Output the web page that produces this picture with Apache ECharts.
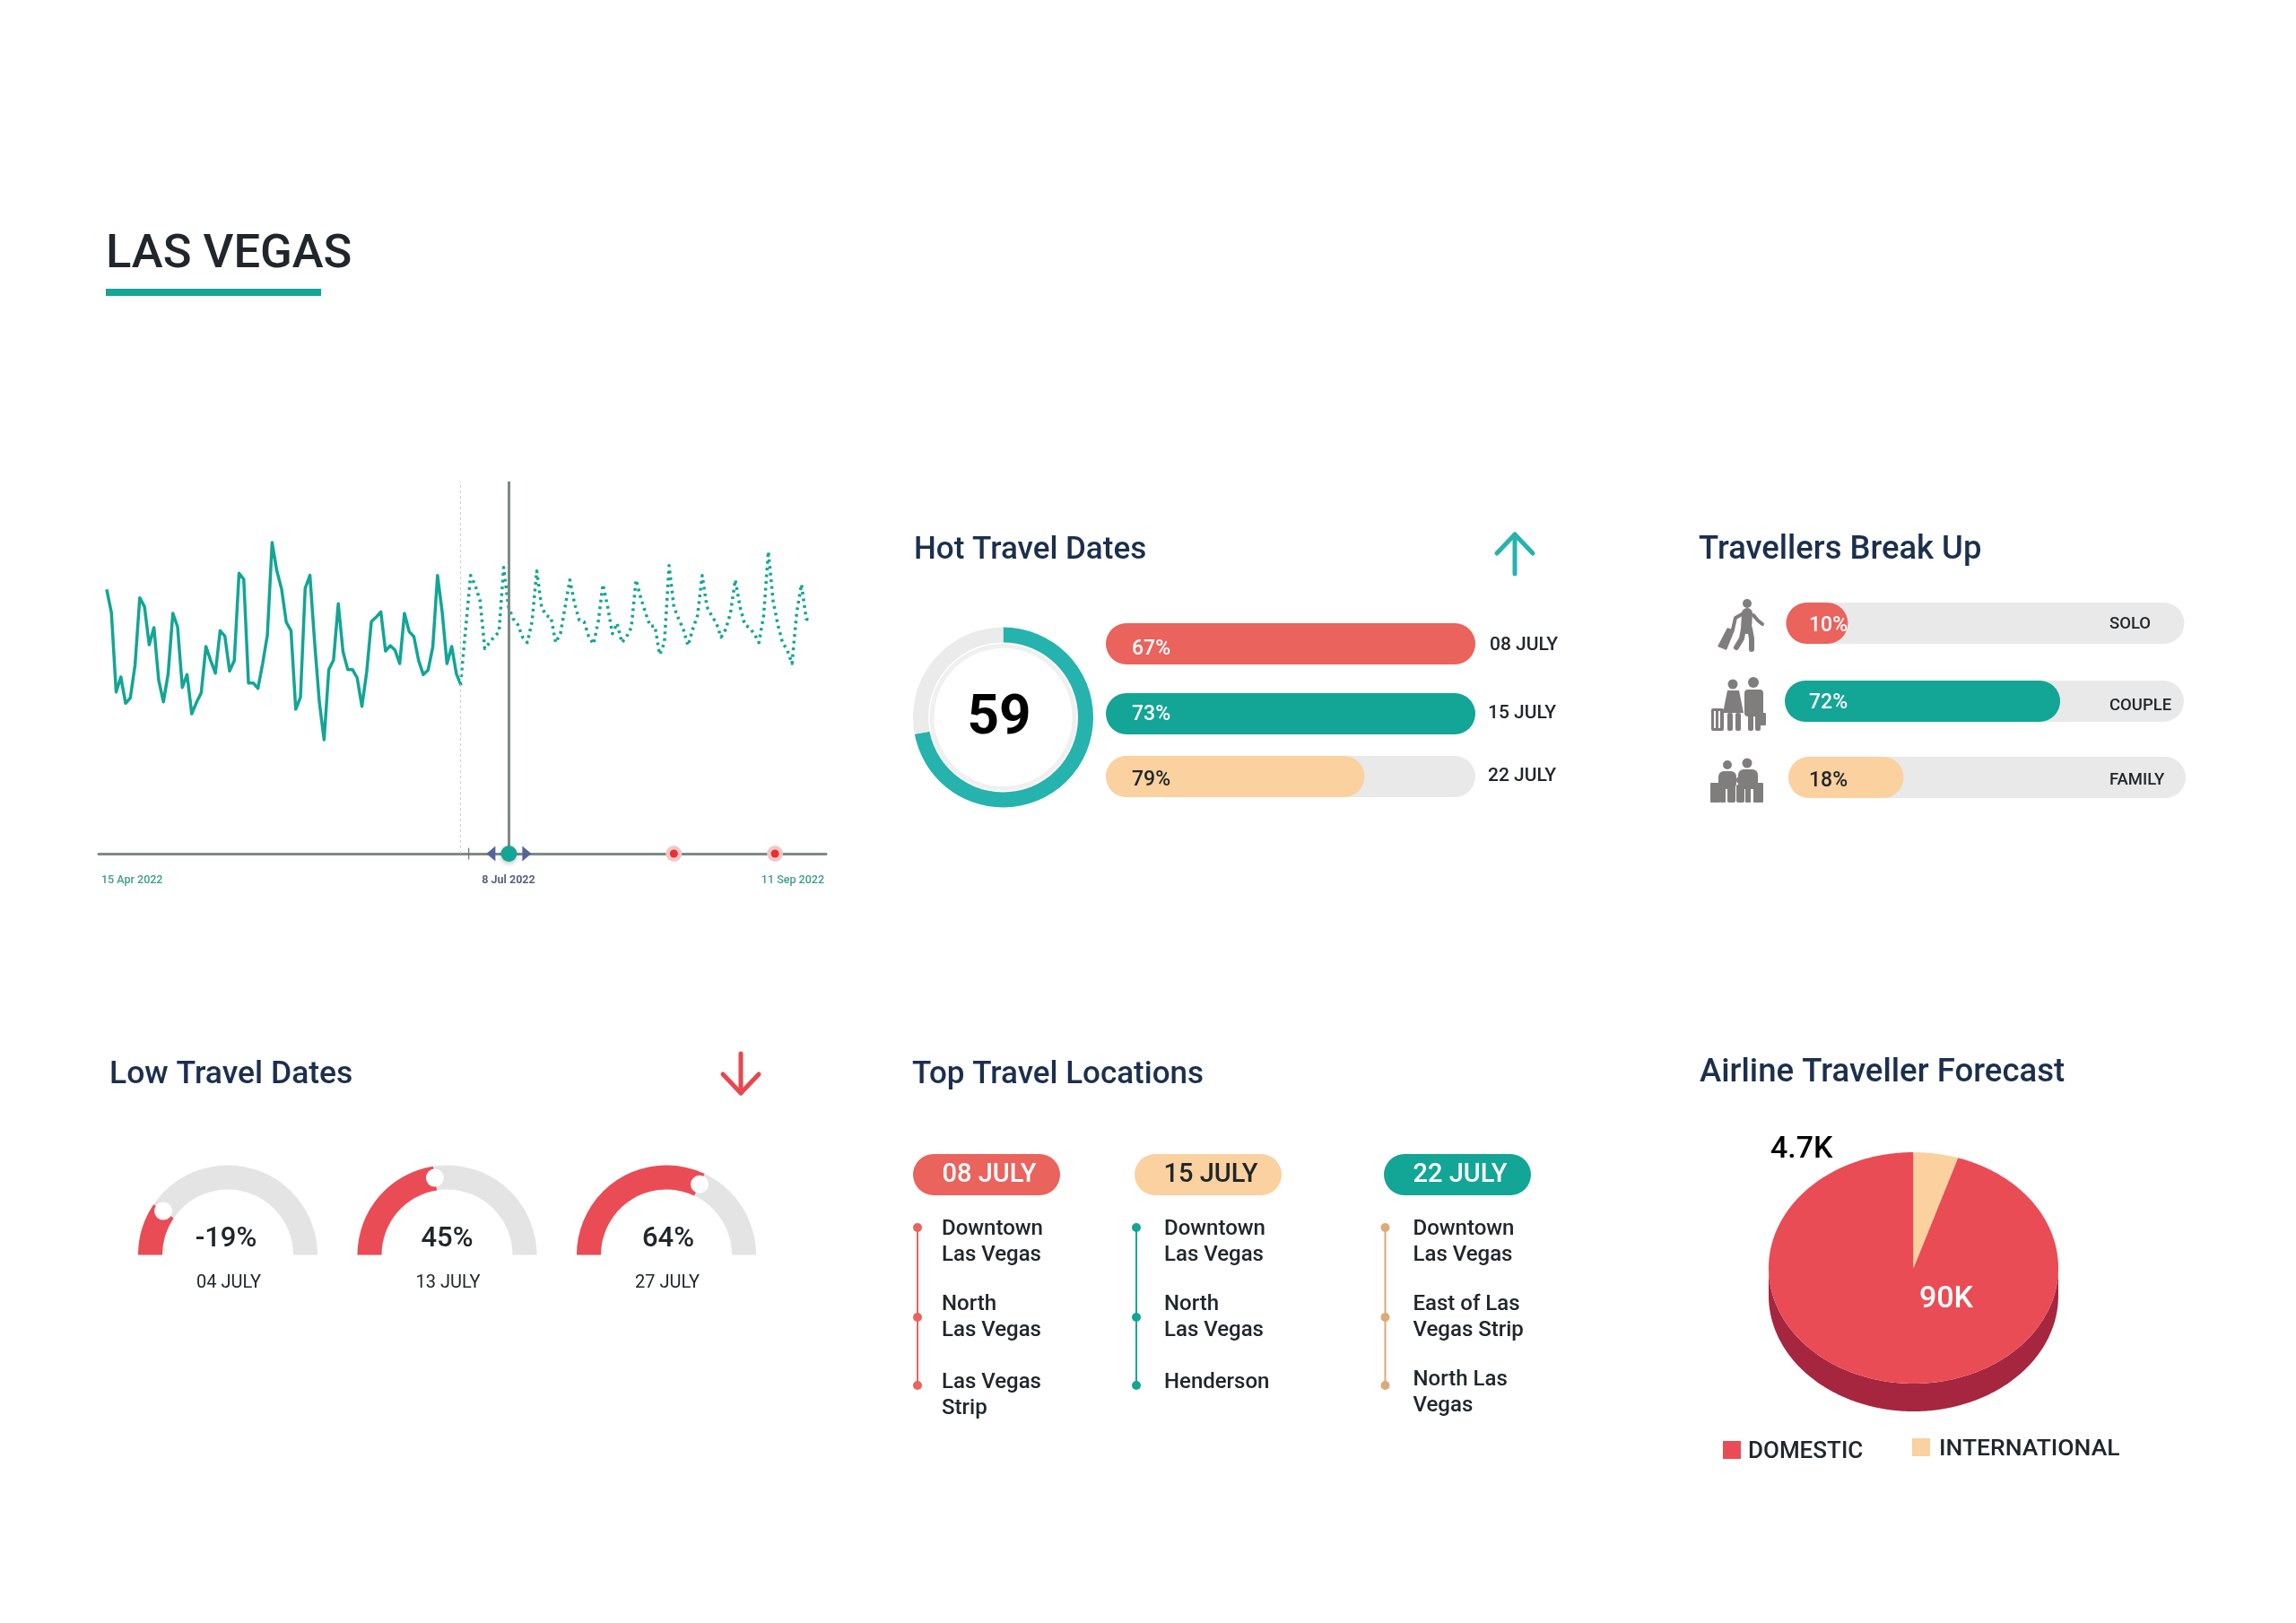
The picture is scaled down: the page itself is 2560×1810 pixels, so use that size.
<!DOCTYPE html>
<html><head><meta charset="utf-8">
<style>html,body{margin:0;padding:0;background:#fff}#c{width:2560px;height:1810px}</style>
<script src="https://cdn.jsdelivr.net/npm/echarts@6/dist/echarts.min.js"></script>
</head><body><div id="c"></div>
<script>
// ---------- data ----------
const actualValues=[588,510,245,295,207,225,335,560,530,403,460,285,212,305,508,463,260,303,172,210,242,397,350,308,450,432,315,350,642,622,275,275,257,340,435,745,650,590,478,450,187,227,592,635,410,210,85,320,352,540,380,320,320,292,197,310,480,495,513,382,400,385,340,508,447,430,350,303,318,395,635,510,340,397,305,267];
const forecastValues=[295,465,635,600,550,390,410,430,445,662,530,490,470,428,410,480,650,530,500,495,410,440,530,620,540,485,480,430,405,480,605,530,440,475,410,430,460,620,560,510,465,465,370,410,668,530,490,455,400,455,500,635,530,500,475,428,455,510,620,530,470,460,440,410,500,715,550,470,410,385,340,510,605,490,478];
const timelineLabels=['15 Apr 2022','8 Jul 2022','11 Sep 2022'];
const todayDay=85.1;
const alertDays=[120,141.4];
const hotDates=['08 JULY','15 JULY','22 JULY'];
const hotFill=[100,100,70];
const hotLabels=['67%','73%','79%'];
const hotScore='59';
const hotRing=[72,28];
const travellerTypes=['SOLO','COUPLE','FAMILY'];
const travellerFill=[15.5,69,29];
const travellerLabels=['10%','72%','18%'];
const lowDates=['04 JULY','13 JULY','27 JULY'];
const lowValues=[19,45,64];
const lowLabels=['-19%','45%','64%'];
const locationDates=['08 JULY','15 JULY','22 JULY'];
const locations=[['Downtown\nLas Vegas','North\nLas Vegas','Las Vegas\nStrip'],['Downtown\nLas Vegas','North\nLas Vegas','Henderson'],['Downtown\nLas Vegas','East of Las\nVegas Strip','North Las\nVegas']];
const airlineNames=['DOMESTIC','INTERNATIONAL'];
const airlineValues=[90,4.7];
const airlineLabels=['90K','4.7K'];

// ---------- layout & style ----------
const RED='#ea635c',TEAL='#13a595',PEACH='#fad19f',TAN='#dcaa78',TRACK='#e9e9e9',GAUGE='#ea4c55',NAVY='#1b2f4e',INK='#20262b',GREY='#807d7d';
const FF='Roboto';
const DAY=86400000,T0=Date.UTC(2022,3,15);
const dayTs=d=>T0+d*DAY;
const grids=[],xAxes=[],yAxes=[],series=[],gfx=[];
function T(x,y,text,size,fill,weight,align){gfx.push({type:'text',silent:true,z:100,style:{x,y:y+3,text,fill,textAlign:align||'left',textVerticalAlign:'middle',fontFamily:FF,fontSize:size,fontWeight:weight||500,lineHeight:size*1.2}});}
function addGrid(g,x,y){grids.push(g);xAxes.push(Object.assign({gridIndex:grids.length-1},x));yAxes.push(Object.assign({gridIndex:grids.length-1},y));return grids.length-1;}

// ---------- headings ----------
T(118,282,'LAS VEGAS',52.5,'#20262b',500);
gfx.push({type:'rect',silent:true,shape:{x:118,y:322,width:240,height:8},style:{fill:TEAL}});
T(1019,611,'Hot Travel Dates',35,NAVY);
T(1894,611,'Travellers Break Up',36.4,NAVY);
T(122,1196,'Low Travel Dates',35.5,NAVY);
T(1017,1196,'Top Travel Locations',35,NAVY);
T(1895,1194,'Airline Traveller Forecast',36.6,NAVY);
function arrow(x,top,bot,head,col,up){
  const tip=up?top:bot,hy=up?top+head:bot-head;
  gfx.push({type:'polyline',silent:true,shape:{points:[[x,top],[x,bot]]},style:{stroke:col,lineWidth:5,lineCap:'round',fill:null}});
  gfx.push({type:'polyline',silent:true,shape:{points:[[x-20,hy],[x,tip],[x+20,hy]]},style:{stroke:col,lineWidth:5,lineCap:'round',lineJoin:'round',fill:null}});
}
arrow(1689,596,640,21,'#26b3ae',true);
arrow(826,1175,1219,21,'#e8474f',false);

// ---------- timeline line chart ----------
const g0=addGrid({left:110,top:537,width:811,height:415},
 {type:'time',min:dayTs(-1.7),max:dayTs(152.2),axisLabel:{show:false},axisTick:{show:false},splitLine:{show:false},axisLine:{show:true,onZero:false,lineStyle:{color:'#7d8a86',width:3}}},
 {type:'value',min:-296,max:949,show:false,splitLine:{show:false}});
const L=(name,data,ls)=>series.push(Object.assign({type:'line',name,xAxisIndex:g0,yAxisIndex:g0,showSymbol:false,silent:true,data},ls));
L('Actual',actualValues.map((v,i)=>[dayTs(i),v]),{lineStyle:{color:TEAL,width:3.5,join:'round'},z:3,
 markLine:{silent:true,symbol:'none',label:{show:false},data:[
  {xAxis:dayTs(74.75),lineStyle:{color:'#c9cfcd',width:1,type:[3,3]}},
  {xAxis:dayTs(todayDay),lineStyle:{color:'#7d8a86',width:3,type:'solid'}}]}});
L('Forecast',forecastValues.map((v,i)=>[dayTs(75+i),v]),{lineStyle:{color:TEAL,width:3.5,type:[3,4.5],join:'round'},z:3});
const S=(data,o)=>{o.itemStyle.opacity=1;series.push(Object.assign({type:'scatter',xAxisIndex:g0,yAxisIndex:g0,silent:true,data:data.map(d=>[dayTs(d),-296])},o));};
S([76.6],{symbol:'rect',symbolSize:[1.2,13],itemStyle:{color:'#6d7674'},z:4});
S([todayDay],{symbol:'triangle',symbolSize:[17,10],symbolRotate:90,symbolOffset:[-20,0],itemStyle:{color:'#56629a'},z:5});
S([todayDay],{symbol:'triangle',symbolSize:[17,10],symbolRotate:-90,symbolOffset:[20,0],itemStyle:{color:'#56629a'},z:5});
S([todayDay],{symbolSize:18,itemStyle:{color:TEAL,shadowColor:'rgba(0,0,0,.25)',shadowBlur:5,shadowOffsetY:2},z:6});
S(alertDays,{symbolSize:18,itemStyle:{color:'#f0c8c8'},z:4});
S(alertDays,{symbolSize:9,itemStyle:{color:'#ec2f33'},z:5});
T(113,979,timelineLabels[0],12.5,'#3d9c90',500);
T(567,979,timelineLabels[1],12.5,'#5a6180',700,'center');
T(919,979,timelineLabels[2],12.5,'#3d9c90',500,'right');

// ---------- bars ----------
function bar(left,top,width,height,value,color,label,labelColor,name,dist,dy){
  const g=addGrid({left,top,width,height},{type:'value',min:0,max:100,show:false},{type:'category',data:[name],show:false});
  series.push({type:'bar',xAxisIndex:g,yAxisIndex:g,barWidth:'100%',silent:true,data:[value],
    showBackground:true,backgroundStyle:{color:TRACK,borderRadius:height/2},
    itemStyle:{color,borderRadius:height/2},
    label:{show:true,position:'insideLeft',distance:dist,offset:[0,dy],formatter:label,color:labelColor,fontFamily:FF,fontWeight:500,fontSize:23}});
}
const hotRows=[695,773,843],hotCol=[RED,TEAL,PEACH],hotTxt=['#fff','#fff',INK],hotDy=[6,1,4];
hotDates.forEach((d,i)=>{
  bar(1233,hotRows[i],412,46,hotFill[i],hotCol[i],hotLabels[i],hotTxt[i],d,29,hotDy[i]);
  T(1661-(i?2:0),[717,793,863][i],d,21,INK,500);
});
const travRows=[[1991.5,672,444],[1990,759,445],[1994,844,443]],travCol=[RED,TEAL,PEACH],travTxt=['#fff','#fff',INK],travDy=[3,2,4];
travellerTypes.forEach((d,i)=>{
  const r=travRows[i];
  bar(r[0],r[1],r[2],46,travellerFill[i],travCol[i],travellerLabels[i],travTxt[i],d,2017-r[0],travDy[i]);
  T(2352,[693,784,867][i],d,18.5,INK,500);
});

// ---------- donut ----------
const DX=1118.5;
series.push({type:'pie',silent:true,animation:false,center:[DX,800],radius:[83.5,100.5],startAngle:90,label:{show:false},labelLine:{show:false},
  data:[{value:hotRing[0],itemStyle:{color:'#26b3ae'}},{value:hotRing[1],itemStyle:{color:'#ebebeb'}}]});
series.push({type:'pie',silent:true,center:[DX,800],radius:[77,82],label:{show:false},labelLine:{show:false},data:[{value:1,itemStyle:{color:'#f0f0f0'}}]});
T(1114,799,hotScore,62,'#000',700,'center');

// ---------- gauges ----------
const gaugeX=[254,498.5,743],GY=1399.5,detailDx=[-2,0,2];
lowValues.forEach((v,i)=>{
  series.push({type:'gauge',silent:true,center:[gaugeX[i],GY],radius:100,startAngle:180,endAngle:0,min:0,max:100,
    axisLine:{roundCap:false,lineStyle:{width:27,color:[[1,'#e4e4e4']]}},
    progress:{show:true,width:27,roundCap:false,itemStyle:{color:GAUGE}},
    splitLine:{show:false},axisTick:{show:false},axisLabel:{show:false},
    pointer:{show:false},anchor:{show:false},
    title:{show:true,offsetCenter:[1,31],color:INK,fontFamily:FF,fontWeight:400,fontSize:20},
    detail:{show:true,offsetCenter:[detailDx[i],-17],color:INK,fontFamily:FF,fontWeight:500,fontSize:31,formatter:()=>lowLabels[i]},
    data:[{value:v,name:lowDates[i]}]});
});

// ---------- locations timeline ----------
const gPx=addGrid({left:0,top:0,width:2560,height:1810},{type:'value',min:0,max:2560,show:false},{type:'value',min:0,max:1810,inverse:true,show:false});
series.push({type:'scatter',xAxisIndex:gPx,yAxisIndex:gPx,silent:true,z:6,symbolSize:20,itemStyle:{color:'#fff',opacity:1},
  data:lowValues.map((v,i)=>[gaugeX[i]-87*Math.cos(v/100*Math.PI),GY-87*Math.sin(v/100*Math.PI)])});
const colX=[1023,1267,1544.5],colCol=[RED,TEAL,TAN],stopY=[1369,1469,1545];
const textX=[1050,1298,1575.5],textY=[[1368,1452,1539],[1368,1452,1539],[1368,1452,1536]];
const pillX=[1018,1265,1543],pillFill=[RED,PEACH,TEAL],pillTxt=['#fff',INK,'#fff'];
locationDates.forEach((d,i)=>{
  gfx.push({type:'rect',silent:true,z:50,shape:{x:pillX[i],y:1287,width:164,height:46,r:23},style:{fill:pillFill[i]}});
  T(pillX[i]+85,1307.5,d,29,pillTxt[i],500,'center');
  series.push({type:'line',xAxisIndex:gPx,yAxisIndex:gPx,silent:true,symbol:'circle',symbolSize:10,
    lineStyle:{color:colCol[i],width:2},itemStyle:{color:colCol[i]},data:stopY.map(y=>[colX[i],y])});
  locations[i].forEach((s,j)=>s.split('\n').forEach((ln,k)=>T(textX[i],textY[i][j]+k*29,ln,24,INK,500)));
});

// ---------- 3D-look pie ----------
const PC={x:2133.5,y:1414,rx:161.5,ry:129,d:31};
const ept=(t,dy)=>[PC.x+PC.rx*Math.sin(t),PC.y+(dy||0)-PC.ry*Math.cos(t)];
function arc(a,b,dy){const n=Math.max(8,Math.ceil((b-a)*60)),o=[];for(let k=0;k<=n;k++)o.push(ept(a+(b-a)*k/n,dy));return o;}
series.push({type:'custom',coordinateSystem:'none',silent:true,data:airlineValues.map(v=>[v]),
  renderItem(p,api){
    const tot=airlineValues[0]+airlineValues[1],a=airlineValues[1]/tot*2*Math.PI,ch=[];
    if(p.dataIndex===0){
      const side=arc(Math.PI/2,3*Math.PI/2,PC.d).concat(arc(Math.PI/2,3*Math.PI/2,0).reverse());
      ch.push({type:'polygon',shape:{points:side},style:{fill:'#a62640'}});
      ch.push({type:'polygon',shape:{points:[[PC.x,PC.y]].concat(arc(a,2*Math.PI))},style:{fill:GAUGE}});
    }else{
      ch.push({type:'polygon',shape:{points:[[PC.x,PC.y]].concat(arc(0,a))},style:{fill:PEACH}});
    }
    return {type:'group',children:ch};
  }});
T(2170,1446,airlineLabels[0],34,'#fff',500,'center');
T(1974,1279,airlineLabels[1],34,'#000',500);
gfx.push({type:'rect',silent:true,shape:{x:1921,y:1607,width:20,height:20},style:{fill:GAUGE}});
gfx.push({type:'rect',silent:true,shape:{x:2132,y:1604,width:20,height:20},style:{fill:PEACH}});
T(1949,1616,airlineNames[0],26,INK,500);
T(2162,1613,airlineNames[1],26.5,INK,500);

// ---------- pictograms ----------
const C=(cx,cy,r)=>gfx.push({type:'circle',silent:true,shape:{cx,cy,r},style:{fill:GREY}});
const P=(pts,w,col)=>gfx.push({type:'polyline',silent:true,shape:{points:pts},style:{stroke:col||GREY,lineWidth:w,lineCap:'round',lineJoin:'round',fill:null}});
const G=(pts)=>gfx.push({type:'polygon',silent:true,shape:{points:pts},style:{fill:GREY}});
const R=(x,y,width,height,r,fill)=>gfx.push({type:'rect',silent:true,shape:{x,y,width,height,r:r||0},style:{fill:fill||GREY}});
// solo
C(1948,673,5);P([[1948,684],[1947,701]],12);P([[1944,701],[1942,712],[1936,722]],6);P([[1951,701],[1953,712],[1953,724]],6);
P([[1944,684],[1935,689],[1932,702]],4);P([[1955,686],[1960,692],[1965,696]],4);
G([[1926,700],[1934,703],[1925,725],[1915,721]]);
// couple
C(1932,763,5.5);C(1955,761,6);
G([[1926,770],[1939,770],[1944,795],[1921,795]]);R(1926,795,6,20,2);R(1935,795,6,20,2);
R(1945,769,21,30,4);R(1949,797,6,18,2);R(1957,797,6,18,2);R(1961,795,8,14,1);
R(1908,790,14,25,2);R(1911,793,2,19,0,'#fff');R(1916,793,2,19,0,'#fff');
// family
C(1926,853,5);C(1948,851,5.5);
R(1916,860,20,20,6);R(1938,858,22,22,6);R(1918,878,6,17,1);R(1946,878,6,17,1);
C(1931,872,4);C(1940,870,4);R(1926,876,9,19,2);R(1936,875,9,20,2);
R(1907,873,11,22,1);R(1955,873,11,22,1);

const chart=echarts.init(document.getElementById('c'),null,{renderer:'canvas',width:2560,height:1810});
chart.setOption({animation:false,backgroundColor:'#fff',grid:grids,xAxis:xAxes,yAxis:yAxes,series,graphic:{elements:gfx}});
</script></body></html>
